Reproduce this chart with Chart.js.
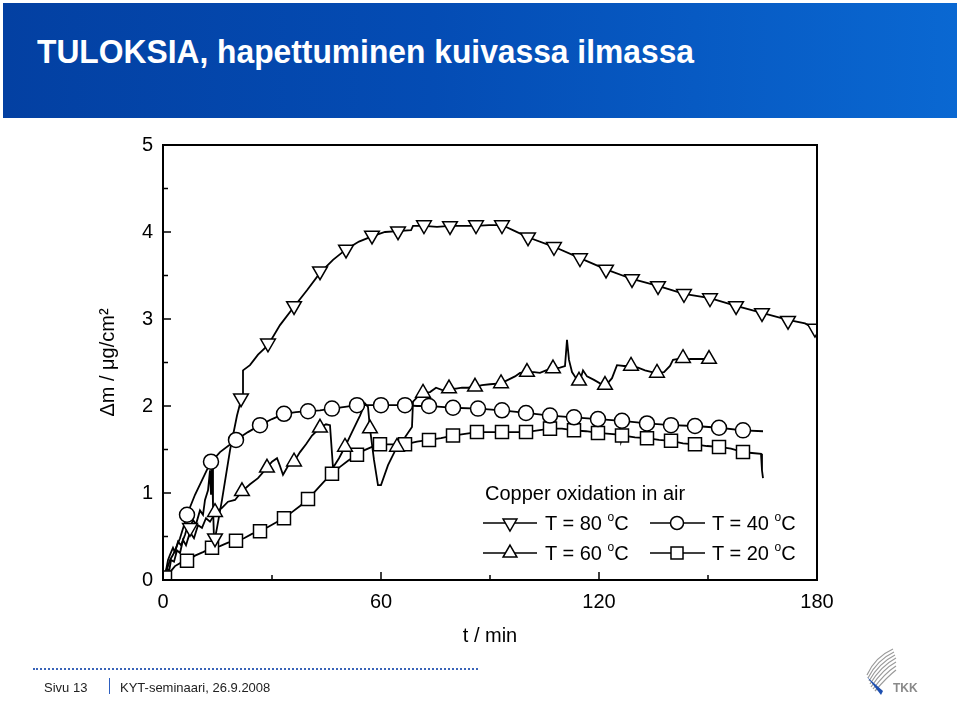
<!DOCTYPE html>
<html><head><meta charset="utf-8">
<script src="https://cdn.jsdelivr.net/npm/chart.js@4.4.1/dist/chart.umd.min.js"></script>
<style>
html,body{margin:0;padding:0;background:#fff;width:960px;height:718px;overflow:hidden;font-family:"Liberation Sans",Arial,sans-serif;}
#hdr{position:absolute;left:3px;top:3px;width:954px;height:115px;background:linear-gradient(to right,#0340a2 0%,#044cb4 45%,#0a68d2 100%);}
#ttl{position:absolute;left:37px;top:35px;color:#fff;font-weight:bold;font-size:33px;line-height:33px;white-space:nowrap;transform-origin:0 0;}
#cv{position:absolute;left:0;top:0;}
.lg{position:absolute;font-size:20px;line-height:20px;white-space:nowrap;color:#000;}
.lg sup{font-size:12px;line-height:0;position:relative;top:4px;vertical-align:top;}
#dots{position:absolute;left:33px;top:668px;width:445px;border-top:2px dotted #3a64b8;}
.ft{position:absolute;font-size:13px;line-height:13px;color:#222;white-space:nowrap;}
#bar{position:absolute;left:109px;top:678px;width:1px;height:16px;background:#2d5fc0;}
</style>
</head><body>
<div id="hdr"></div>
<div id="ttl">TULOKSIA, hapettuminen kuivassa ilmassa</div>
<canvas id="cv" width="960" height="718"></canvas>
<div class="lg" style="left:485px;top:483px;">Copper oxidation in air</div>
<div class="lg" style="left:545px;top:513px;">T = 80 <sup>o</sup>C</div>
<div class="lg" style="left:712px;top:513px;">T = 40 <sup>o</sup>C</div>
<div class="lg" style="left:545px;top:543px;">T = 60 <sup>o</sup>C</div>
<div class="lg" style="left:712px;top:543px;">T = 20 <sup>o</sup>C</div>
<div id="dots"></div>
<div class="ft" style="left:44px;top:681px;">Sivu 13</div>
<div id="bar"></div>
<div class="ft" style="left:120px;top:681px;">KYT-seminaari, 26.9.2008</div>
<svg style="position:absolute;left:855px;top:645px" width="80" height="60" viewBox="0 0 80 60">
  <g fill="none" stroke="#9a9a9a" stroke-width="1.2">
    <path d="M12 30 Q20 12 38 4"/><path d="M13 33 Q22 15 39 7"/><path d="M14 36 Q24 18 40 10"/>
    <path d="M15 39 Q26 21 41 13"/><path d="M16 42 Q28 24 41 17"/><path d="M18 44 Q30 28 41 21"/>
    <path d="M20 46 Q32 32 41 25"/>
  </g>
  <path d="M12 32 L28 46 L26 50 Z" fill="#1d4fb0"/>
  <text x="38" y="47" font-family="Liberation Sans, Arial" font-weight="bold" font-size="12" fill="#8a8a8a">TKK</text>
</svg>
<script>
// ---- data (t in min, dm in ug/cm2) ----
const t80 = [0,0.83,1.38,1.93,2.75,3.30,4.13,4.95,6.06,6.61,7.43,8.26,9.08,10.18,11.01,11.56,12.39,12.94,13.21,13.49,13.76,14.04,14.31,14.86,16.24,18.44,20.37,21.47,22.02,22.02,23.94,26.15,28.90,32.20,36.06,39.63,43.21,46.79,50.37,53.94,57.52,61.10,64.68,68.26,68.81,71.83,75.41,78.99,82.57,86.15,89.72,93.30,96.88,100.46,107.61,114.77,121.93,129.08,136.24,143.39,150.55,157.72,164.86,172.02,176.70,178.90,180];
const m80 = [0,0.11,0.23,0.29,0.37,0.32,0.44,0.40,0.52,0.60,0.60,0.69,0.64,0.80,0.75,0.92,1.03,1.26,0.98,1.36,0.86,0.46,0.48,0.60,0.92,1.49,1.89,2.07,2.13,2.41,2.47,2.59,2.70,2.93,3.14,3.33,3.53,3.68,3.80,3.89,3.95,4.00,4.01,4.02,4.07,4.07,4.06,4.07,4.07,4.07,4.08,4.08,4.01,3.94,3.83,3.70,3.57,3.46,3.38,3.29,3.24,3.15,3.07,2.99,2.95,2.90,2.84];
const t80Mk = [7.43,14.31,21.47,28.90,36.06,43.21,50.37,57.52,64.68,71.83,78.99,86.15,93.30,100.46,107.61,114.77,121.93,129.08,136.24,143.39,150.55,157.72,164.86,172.02,179.45];
const m80Mk = [0.60,0.48,2.09,2.72,3.15,3.55,3.80,3.96,4.01,4.08,4.07,4.08,4.08,3.94,3.83,3.70,3.57,3.46,3.38,3.29,3.24,3.15,3.07,2.98,2.89];

const t60 = [0,0.55,1.10,1.65,2.20,3.03,3.85,4.68,5.50,6.33,7.43,8.53,9.63,10.73,11.83,12.94,14.59,16.24,17.89,19.82,21.74,23.94,26.15,28.62,30.00,31.38,32.20,33.03,34.40,36.06,37.71,39.36,41.01,43.21,44.86,45.96,46.79,48.44,50.09,52.02,54.22,55.60,56.42,56.97,58.07,59.17,60.00,61.93,64.40,66.61,68.53,68.81,70.18,71.56,73.49,75.14,77.06,78.72,80.64,82.29,83.94,85.87,87.80,90.00,93.03,94.95,96.88,98.26,100.18,102.11,103.76,105.41,107.34,109.27,110.64,111.19,111.74,112.57,113.67,114.77,115.60,116.70,118.62,120.27,121.93,123.58,124.95,126.88,128.81,130.74,132.66,134.59,135.96,137.89,139.54,140.37,143.12,145.05,147.80,150.28,151.10];
const m60 = [0,0.06,0.14,0.09,0.23,0.21,0.34,0.31,0.46,0.40,0.55,0.48,0.63,0.60,0.71,0.67,0.78,0.83,0.90,0.92,1.02,1.10,1.17,1.29,1.36,1.40,1.31,1.21,1.31,1.36,1.47,1.56,1.66,1.75,1.79,1.78,1.29,1.40,1.53,1.70,1.89,2.03,1.99,1.74,1.38,1.09,1.09,1.32,1.53,1.64,1.76,2.05,2.11,2.15,2.16,2.21,2.18,2.20,2.20,2.21,2.21,2.22,2.24,2.25,2.26,2.30,2.34,2.38,2.39,2.39,2.38,2.41,2.43,2.44,2.46,2.76,2.53,2.39,2.32,2.29,2.41,2.34,2.30,2.26,2.24,2.32,2.47,2.46,2.46,2.44,2.41,2.39,2.38,2.39,2.46,2.53,2.55,2.54,2.54,2.54,2.53];
const t60Mk = [14.31,21.74,28.62,36.06,43.21,50.09,56.97,64.40,71.56,78.72,85.87,93.03,100.18,107.34,114.50,121.65,128.81,135.96,143.12,150.28];
const m60Mk = [0.78,1.02,1.29,1.36,1.75,1.53,1.74,1.53,2.15,2.20,2.22,2.26,2.39,2.43,2.29,2.24,2.46,2.38,2.55,2.54];

const t40 = [0,0.83,1.93,2.75,3.58,4.68,5.78,6.61,8.81,11.01,12.94,15.69,20.09,23.39,26.70,30.00,33.30,36.61,39.91,43.21,46.51,50.09,53.39,56.70,60.00,63.30,66.61,69.91,73.21,76.51,79.82,86.70,93.30,99.91,106.51,113.12,119.72,126.33,133.21,139.82,146.42,153.03,159.63,165.14];
const m40 = [0,0.09,0.23,0.29,0.37,0.48,0.63,0.75,0.98,1.17,1.34,1.47,1.61,1.70,1.78,1.85,1.91,1.93,1.94,1.95,1.97,1.99,2.01,2.01,2.01,2.01,2.01,2.00,2.00,1.99,1.98,1.97,1.95,1.92,1.89,1.87,1.85,1.83,1.80,1.78,1.77,1.75,1.72,1.71];
const t40Mk = [6.61,13.21,20.09,26.70,33.30,39.91,46.51,53.39,60.00,66.61,73.21,79.82,86.70,93.30,99.91,106.51,113.12,119.72,126.33,133.21,139.82,146.42,153.03,159.63];
const m40Mk = [0.75,1.36,1.61,1.78,1.91,1.94,1.97,2.01,2.01,2.01,2.00,1.98,1.97,1.95,1.92,1.89,1.87,1.85,1.83,1.80,1.78,1.77,1.75,1.72];

const t20 = [0,0.55,1.93,3.30,4.95,6.61,8.81,11.01,13.49,15.69,17.89,20.09,22.29,24.49,26.70,28.90,31.10,33.30,35.50,37.71,39.91,42.11,44.31,46.51,48.72,50.92,53.39,55.32,57.52,59.72,63.03,66.61,69.91,73.21,76.51,79.82,83.12,86.42,90.00,93.30,96.61,99.91,103.21,106.51,109.82,113.12,116.42,119.72,123.03,125.78,125.78,126.06,126.61,129.91,133.21,136.51,139.82,143.12,146.42,149.72,153.03,156.33,159.63,162.11,164.59,164.86,165.14];
const m20 = [0,0.02,0.09,0.16,0.20,0.22,0.28,0.32,0.37,0.39,0.43,0.45,0.48,0.53,0.56,0.61,0.66,0.71,0.78,0.85,0.93,1.03,1.13,1.22,1.30,1.37,1.44,1.49,1.53,1.56,1.56,1.56,1.59,1.61,1.63,1.66,1.68,1.70,1.70,1.70,1.70,1.70,1.72,1.74,1.74,1.72,1.71,1.69,1.68,1.67,1.75,1.59,1.66,1.64,1.63,1.61,1.60,1.57,1.56,1.54,1.53,1.51,1.47,1.46,1.45,1.26,1.17];
const t20Mk = [0.55,6.61,13.49,20.09,26.70,33.30,39.91,46.51,53.39,59.72,66.61,73.21,79.82,86.42,93.30,99.91,106.51,113.12,119.72,126.33,133.21,139.82,146.42,153.03,159.63];
const m20Mk = [0.03,0.22,0.37,0.45,0.56,0.71,0.93,1.22,1.44,1.56,1.56,1.61,1.66,1.70,1.70,1.70,1.74,1.72,1.69,1.66,1.63,1.60,1.56,1.53,1.47];

const xTicks = [0, 60, 120, 180];
const xMinor = [30, 90, 150];
const yTicks = [0, 1, 2, 3, 4, 5];
const yMinor = [0.5, 1.5, 2.5, 3.5, 4.5];
const xTitle = 't / min';
const yTitle = '\u0394m / \u03bcg/cm\u00b2';

// ---- title width fit ----
(function(){
  const el = document.getElementById('ttl');
  const w = el.getBoundingClientRect().width;
  el.style.transform = 'scaleX(' + (657 / w) + ')';
})();

const zip = (a, b) => a.map((v, i) => ({x: v, y: b[i]}));

function lineDs(t, m) {
  return {type: 'line', data: zip(t, m), borderColor: '#000', borderWidth: 1.8,
    pointRadius: 0, tension: 0, fill: false, order: 2};
}
function markDs(t, m, style, r, rot) {
  return {type: 'line', data: zip(t, m), showLine: false, pointStyle: style,
    pointRadius: r, pointRotation: rot || 0, pointBackgroundColor: '#fff',
    pointBorderColor: '#000', pointBorderWidth: 1.5, order: 1};
}

function drawMarker(ctx, style, x, y, r, rot) {
  ctx.beginPath();
  if (style === 'circle') {
    ctx.arc(x, y, r, 0, Math.PI * 2);
  } else if (style === 'rect') {
    const s = r * Math.SQRT1_2;
    ctx.rect(x - s, y - s, 2 * s, 2 * s);
  } else {
    let a = (rot || 0) * Math.PI / 180;
    ctx.moveTo(x + Math.sin(a) * r, y - Math.cos(a) * r);
    a += 2 * Math.PI / 3; ctx.lineTo(x + Math.sin(a) * r, y - Math.cos(a) * r);
    a += 2 * Math.PI / 3; ctx.lineTo(x + Math.sin(a) * r, y - Math.cos(a) * r);
    ctx.closePath();
  }
  ctx.fillStyle = '#fff'; ctx.fill();
  ctx.lineWidth = 1.5; ctx.strokeStyle = '#000'; ctx.stroke();
}

const framePlugin = {
  id: 'frame',
  afterDatasetsDraw(chart) {
    const {ctx, chartArea: a, scales: {x, y}} = chart;
    ctx.save();
    ctx.strokeStyle = '#000';
    ctx.lineWidth = 2;
    ctx.strokeRect(a.left, a.top, a.right - a.left, a.bottom - a.top);
    ctx.lineWidth = 1.5;
    ctx.beginPath();
    xTicks.forEach(v => { const p = x.getPixelForValue(v); ctx.moveTo(p, a.bottom); ctx.lineTo(p, a.bottom - 8); });
    xMinor.forEach(v => { const p = x.getPixelForValue(v); ctx.moveTo(p, a.bottom); ctx.lineTo(p, a.bottom - 5); });
    yTicks.forEach(v => { const p = y.getPixelForValue(v); ctx.moveTo(a.left, p); ctx.lineTo(a.left + 8, p); });
    yMinor.forEach(v => { const p = y.getPixelForValue(v); ctx.moveTo(a.left, p); ctx.lineTo(a.left + 5, p); });
    ctx.stroke();
    // legend samples
    const rows = [
      [483, 537, 510, 523, 'triangle', 180],
      [650, 705, 677, 523, 'circle', 0],
      [483, 537, 510, 553, 'triangle', 0],
      [650, 705, 677, 553, 'rect', 0]
    ];
    rows.forEach(([x0, x1, xm, yy, st, rot]) => {
      ctx.beginPath(); ctx.lineWidth = 1.5; ctx.strokeStyle = '#000';
      ctx.moveTo(x0, yy); ctx.lineTo(x1, yy); ctx.stroke();
      drawMarker(ctx, st, xm, yy, st === 'circle' ? 6.5 : (st === 'rect' ? 8.5 : 8), rot);
    });
    ctx.restore();
  }
};

Chart.defaults.font.family = '"Liberation Sans", Arial, sans-serif';
Chart.defaults.color = '#000';

new Chart(document.getElementById('cv'), {
  type: 'line',
  data: {
    datasets: [
      markDs(t80Mk, m80Mk, 'triangle', 8.5, 180),
      markDs(t60Mk, m60Mk, 'triangle', 8.5, 0),
      markDs(t40Mk, m40Mk, 'circle', 7.5),
      markDs(t20Mk, m20Mk, 'rect', 9.2),
      lineDs(t80, m80),
      lineDs(t60, m60),
      lineDs(t40, m40),
      lineDs(t20, m20)
    ]
  },
  options: {
    responsive: false,
    animation: false,
    layout: {padding: {left: 95, top: 145, right: 143, bottom: 58}},
    plugins: {legend: {display: false}, tooltip: {enabled: false}},
    scales: {
      x: {
        type: 'linear', min: 0, max: 180,
        afterBuildTicks: s => { s.ticks = xTicks.map(v => ({value: v})); },
        afterFit: s => { s.height = 80; },
        grid: {display: false, drawTicks: false},
        border: {display: false},
        ticks: {font: {size: 20}, padding: 10, maxRotation: 0},
        title: {display: true, text: xTitle, font: {size: 20}, padding: {top: 0, bottom: 12}}
      },
      y: {
        type: 'linear', min: 0, max: 5,
        afterBuildTicks: s => { s.ticks = yTicks.map(v => ({value: v})); },
        afterFit: s => { s.width = 68; },
        grid: {display: false, drawTicks: false},
        border: {display: false},
        ticks: {font: {size: 20}, padding: 10},
        title: {display: true, text: yTitle, font: {size: 20}, padding: {top: 1, bottom: 0}}
      }
    }
  },
  plugins: [framePlugin]
});
</script>
</body></html>
